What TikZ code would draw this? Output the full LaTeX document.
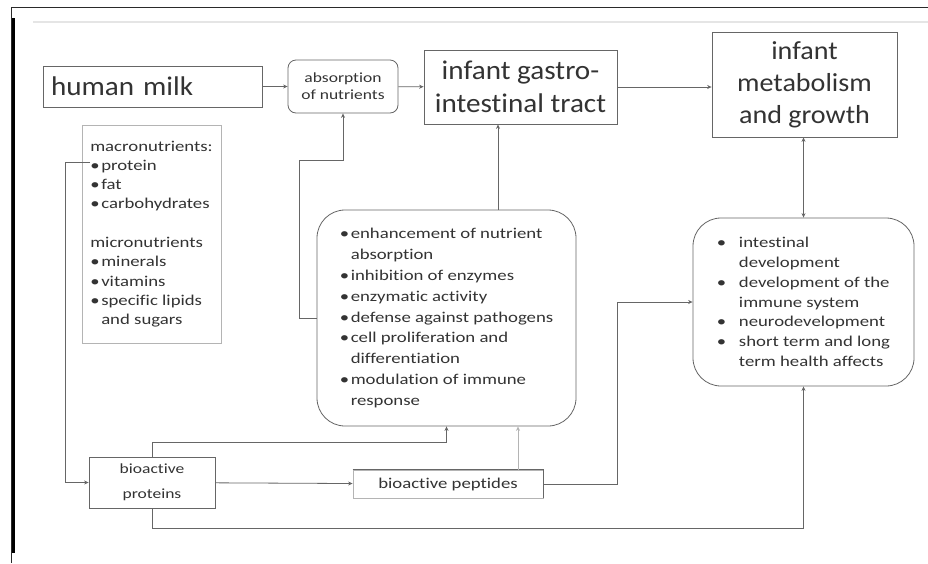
\documentclass[tikz,border=0pt]{standalone}
\usepackage{fontspec}
\setmainfont{Carlito}[Ligatures=NoCommon]
\newfontfamily\bigfont{Carlito}[FakeStretch=1.08, Ligatures=NoCommon]
\newfontfamily\smallfont{Carlito}[FakeStretch=1.25, Ligatures=NoCommon]
\usetikzlibrary{arrows.meta,positioning,calc}
\definecolor{mlkink}{HTML}{333333}
\definecolor{mlkline}{HTML}{666666}
\definecolor{mlkpale}{HTML}{B4B4B4}
\definecolor{mlkframe}{HTML}{2A2A2A}
\newcommand{\bul}[1]{\makebox[#1][l]{\textbullet}}
\newcommand{\ind}[1]{\hspace*{#1}}

\tikzset{
  bigbox/.style={draw=mlkline, line width=0.8pt, text=mlkink, align=center,
    font=\bigfont\fontsize{26}{32}\selectfont},
  smallbox/.style={draw=mlkline, line width=0.8pt, text=mlkink,
    font=\smallfont\fontsize{15}{20.9}\selectfont},
  arr/.style={draw=mlkline, line width=0.8pt, -{Stealth[length=4.5pt,width=4pt]}},
}

\begin{document}
\begin{tikzpicture}[x=1pt,y=-1pt]
  \useasboundingbox (0,0) rectangle (928,563);
  \fill[white] (0,0) rectangle (928,563);

  % Frame
  \draw[mlkframe, line width=1.2pt] (11,7.5) -- (928,7.5);
  \draw[mlkframe, line width=1pt] (11,7.5) -- (11,563);
  \draw[black, line width=2.2pt] (13.5,18) -- (13.5,553);
  \draw[gray!20, line width=1.5pt] (33,22) -- (928,22);

  % Top row
  \node[bigbox, minimum width=219pt, minimum height=41pt, text width=203pt, inner xsep=8pt,
    align=left, font=\bigfont\fontsize{27}{32}\selectfont] (milk) at (152.5,86.5) {human milk};
  \node[smallbox, rounded corners=8pt, minimum width=110pt, minimum height=53pt, align=center,
    font=\smallfont\fontsize{14}{17}\selectfont] (absorb) at (343,86.5) {absorption\\of nutrients};
  \node[bigbox, minimum width=193pt, minimum height=74pt,
    font=\bigfont\fontsize{27}{33}\selectfont] (gitract) at (520.5,87) {infant gastro-\\intestinal tract};
  \node[bigbox, minimum width=185pt, minimum height=105pt] (metab) at (804.5,84.5) {infant\\metabolism\\and growth};

  % Milk components
  \node[smallbox, draw=mlkpale, minimum width=139pt, minimum height=218pt, align=left,
    font=\smallfont\fontsize{15}{19.3}\selectfont] (nutri) at (151.5,234) {macronutrients:\\
    \bul{11pt}protein\\
    \bul{11pt}fat\\
    \bul{11pt}carbohydrates\\[19.3pt]
    micronutrients\\
    \bul{11pt}minerals\\
    \bul{11pt}vitamins\\
    \bul{11pt}specific lipids\\
    \ind{11pt}and sugars};
  \coordinate (protein) at (90,162);

  % Functions in the gut
  \node[smallbox, rounded corners=28pt, minimum width=259pt, minimum height=216pt, align=left] (effects) at (446.5,318) {\bul{11pt}enhancement of nutrient\\
    \ind{11pt}absorption\\
    \bul{11pt}inhibition of enzymes\\
    \bul{11pt}enzymatic activity\\
    \bul{11pt}defense against pathogens\\
    \bul{11pt}cell proliferation and\\
    \ind{11pt}differentiation\\
    \bul{11pt}modulation of immune\\
    \ind{11pt}response};

  % Outcomes
  \node[smallbox, rounded corners=28pt, minimum width=221pt, minimum height=168pt, align=left,
    font=\smallfont\fontsize{15}{19.8}\selectfont] (health) at (803.5,302) {\bul{22pt}intestinal\\
    \ind{22pt}development\\
    \bul{22pt}development of the\\
    \ind{22pt}immune system\\
    \bul{22pt}neurodevelopment\\
    \bul{22pt}short term and long\\
    \ind{22pt}term health affects};

  % Bioactive components
  \node[smallbox, minimum width=126pt, minimum height=51pt, align=center,
    font=\smallfont\fontsize{14}{25}\selectfont] (bprot) at (152,482.5) {bioactive\\proteins};
  \node[smallbox, draw=mlkpale, minimum width=190pt, minimum height=28pt] (bpept) at (448,484) {bioactive peptides};
  \draw[mlkline, line width=0.8pt] (bpept.north west) -- (bpept.north east) -- (bpept.south east);

  % Connectors
  \draw[arr] (milk) -- (absorb);
  \draw[arr] (absorb) -- (gitract);
  \draw[arr] (gitract.east) -- (metab.west |- gitract.east);
  \coordinate (jabs) at ($(absorb.south)+(0,47)$);
  \draw[arr] (effects.west) -- ++(-17,0) |- (jabs) -- (absorb.south);
  \coordinate (eup) at ([xshift=51.5pt]effects.north);
  \draw[arr] (eup) -- (eup |- gitract.south);
  \draw[arr] (protein) -- ++(-25,0) |- (bprot.west);
  \draw[arr] (bprot.north) -- ++(0,-14) -| (effects.south);
  \draw[arr] (bprot) -- (bpept);
  \coordinate (pup) at ([xshift=70pt]bpept.north);
  \draw[arr, draw=mlkpale] (pup) -- (pup |- effects.south);
  \draw[arr] (bpept.east) -- ++(74,0) |- (health.west);
  \draw[arr] (bprot.south) -- ++(0,20) -| (health.south);
  \draw[arr, {Stealth[length=4.5pt,width=4pt]}-{Stealth[length=4.5pt,width=4pt]}] (health.north) -- (health.north |- metab.south);
\end{tikzpicture}
\end{document}
